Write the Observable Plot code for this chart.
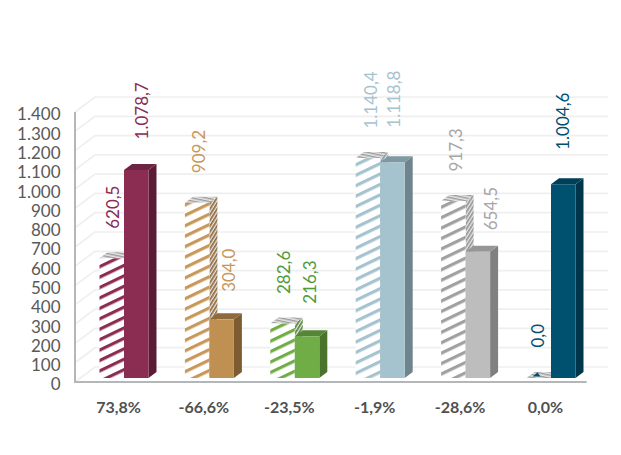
<!DOCTYPE html>
<html><head><meta charset="utf-8">
<script src="https://cdn.jsdelivr.net/npm/d3@7"></script>
<script src="https://cdn.jsdelivr.net/npm/@observablehq/plot@0.6"></script>
<style>html,body{margin:0;padding:0;background:#fff}svg{display:block}</style>
</head><body><div id="chart"></div>
<script>
const changes = ["73,8%", "-66,6%", "-23,5%", "-1,9%", "-28,6%", "0,0%"];
const prior = [620.5, 909.2, 282.6, 1140.4, 917.3, 0];
const current = [1078.7, 304.0, 216.3, 1118.8, 654.5, 1004.6];
const yTicks = [0,100,200,300,400,500,600,700,800,900,1000,1100,1200,1300,1400];

const colors = ["#8b2c52", "#c08f52", "#70ad47", "#a5c3ce", "#bdbdbd", "#00506f"];
const hatchColors = ["#8b2c52", "#c8985a", "#70ad47", "#a5c3ce", "#a0a0a0", "#00506f"];
const topColors = ["#6e2342", "#8f6a3c", "#568536", "#7f98a1", "#969696", "#003f58"];
const sideColors = ["#5a1c35", "#7d5c33", "#4a732e", "#6e858d", "#808080", "#00364b"];
const labelColors = ["#8b2c52", "#c8985a", "#4f9a3c", "#a5c3ce", "#a6a6a6", "#00506f"];

// hand-placed label nudges of the original (pixels)
const priorNudge = [[2,-30],[2,-30],[2,-30],[3,-30],[3,-30],[0,-31]];
const currentNudge = [[6,-31],[7,-28],[3,-33],[1,-35],[13,-22],[0,-35]];

const fmt = v => v.toLocaleString("de-DE", {minimumFractionDigits: 1, maximumFractionDigits: 1});
const tickFmt = v => v.toLocaleString("de-DE");

const depth = [8, -6];      // bar depth
const wallBack = [20, -11]; // back wall relative to bar plane
const wallFront = 4;        // front axis below bar plane
const barW = 24.5;

const priors = changes.map((c, i) => ({c, i, v: prior[i]}));
const currents = changes.map((c, i) => ({c, i, v: current[i]}));

const poly = (g, pts, fill) => g.append("polygon").attr("points", pts.map(p => p.join(",")).join(" ")).attr("fill", fill);

const defsMark = () => {
  const g = d3.create("svg:g");
  const d = g.append("defs");
  hatchColors.forEach((col, i) => {
    const a = d.append("pattern").attr("id", `front${i}`).attr("patternUnits", "userSpaceOnUse")
      .attr("width", 10).attr("height", 9.4).attr("patternTransform", "rotate(-25.6)");
    a.append("rect").attr("width", 10).attr("height", 9.4).attr("fill", "#fff");
    a.append("rect").attr("width", 10).attr("height", 3.2).attr("fill", col);
    const b = d.append("pattern").attr("id", `side${i}`).attr("patternUnits", "userSpaceOnUse")
      .attr("width", 4).attr("height", 3).attr("patternTransform", "rotate(-58)");
    b.append("rect").attr("width", 4).attr("height", 3).attr("fill", "#e8e8e8");
    b.append("rect").attr("width", 4).attr("height", 1.7).attr("fill", topColors[i]);
    const c = d.append("pattern").attr("id", `top${i}`).attr("patternUnits", "userSpaceOnUse")
      .attr("width", 4).attr("height", 3).attr("patternTransform", "rotate(12)");
    c.append("rect").attr("width", 4).attr("height", 3).attr("fill", "#e6e6e6");
    c.append("rect").attr("width", 4).attr("height", 1.4).attr("fill", "#9a9a9a");
  });
  return g.node();
};

const wallMark = (index, scales, values, dims) => {
  const g = d3.create("svg:g").attr("fill", "none");
  const x0 = dims.marginLeft, xEnd = dims.width - dims.marginRight;
  yTicks.forEach(t => {
    const y = scales.y(t);
    const front = y + wallFront, back = y + wallBack[1];
    g.append("path").attr("d", `M${x0},${front}L${x0 + wallBack[0]},${back}L${xEnd},${back}`)
      .attr("stroke", "#efefef").attr("stroke-width", 1.7);
  });
  const yb = scales.y(0) + wallFront, yt = scales.y(1400) + wallFront;
  g.append("path").attr("d", `M${x0},${yt}L${x0},${yb}L${scales.x(changes[5]) + scales.x.bandwidth() - 7},${yb}`)
    .attr("stroke", "#b4b7ba").attr("stroke-width", 2);
  return g.node();
};

// depth faces of a bar series: the side and the top of each bar
const facesMark = (rows, isPrior) => (index, scales) => {
  const g = d3.create("svg:g");
  const [dx, dy] = depth;
  const yb = scales.y(0);
  rows.forEach(r => {
    const mid = scales.x(r.c) + scales.x.bandwidth() / 2;
    const xl = isPrior ? mid - barW : mid, xr = isPrior ? mid : mid + barW;
    const yt = scales.y(r.v);
    if (r.v > 0) poly(g, [[xr, yt], [xr + dx, yt + dy], [xr + dx, yb + dy], [xr, yb]], isPrior ? `url(#side${r.i})` : sideColors[r.i]);
    poly(g, [[xl, yt], [xl + dx, yt + dy], [xr + dx, yt + dy], [xr, yt]], isPrior ? `url(#top${r.i})` : topColors[r.i]);
    if (r.v === 0) poly(g, [[xl + 6, yt - 1.5], [xl + 11, yt - 5.5], [xl + 14, yt - 1.5]], hatchColors[r.i]);
  });
  return g.node();
};

const barsFor = (rows, isPrior) => rows.map(r => Plot.barY([r], {
  x: "c", y: "v",
  fill: isPrior ? `url(#front${r.i})` : colors[r.i],
  insetLeft: isPrior ? 42.7 - barW : 42.7,
  insetRight: isPrior ? 42.7 : 42.7 - barW
}));

const labelsFor = (rows, isPrior, nudge) => rows.map(r => Plot.text([r], {
  x: "c", y: "v", text: d => fmt(d.v),
  rotate: -90, textAnchor: "start",
  dx: (isPrior ? -12.5 : 12.5) + nudge[r.i][0],
  dy: nudge[r.i][1],
  fill: labelColors[r.i], fontSize: 17, fontFamily: "Lato, 'Open Sans', sans-serif"
}));

const plot = Plot.plot({
  width: 621, height: 455,
  marginLeft: 75, marginRight: 13, marginTop: 0, marginBottom: 73,
  style: {background: "#fff", fontFamily: "Lato, 'Open Sans', sans-serif", overflow: "visible"},
  x: {type: "band", domain: changes, range: [81.3, 593.7], padding: 0, round: false, label: null},
  y: {type: "linear", domain: [0, 1400], range: [378, 108], label: null},
  marks: [
    defsMark,
    wallMark,
    Plot.axisY({ticks: yTicks, tickFormat: tickFmt, tickSize: 0, tickPadding: 15, fontSize: 17, fill: "#595959", dy: 6.5, label: null}),
    Plot.axisX({tickSize: 0, tickPadding: 19, fontSize: 16, fontWeight: 700, fill: "#505050", dx: -6, label: null}),
    facesMark(priors, true),
    ...barsFor(priors, true),
    facesMark(currents, false),
    ...barsFor(currents, false),
    ...labelsFor(priors, true, priorNudge),
    ...labelsFor(currents, false, currentNudge)
  ]
});
document.getElementById("chart").appendChild(plot);
</script></body></html>
